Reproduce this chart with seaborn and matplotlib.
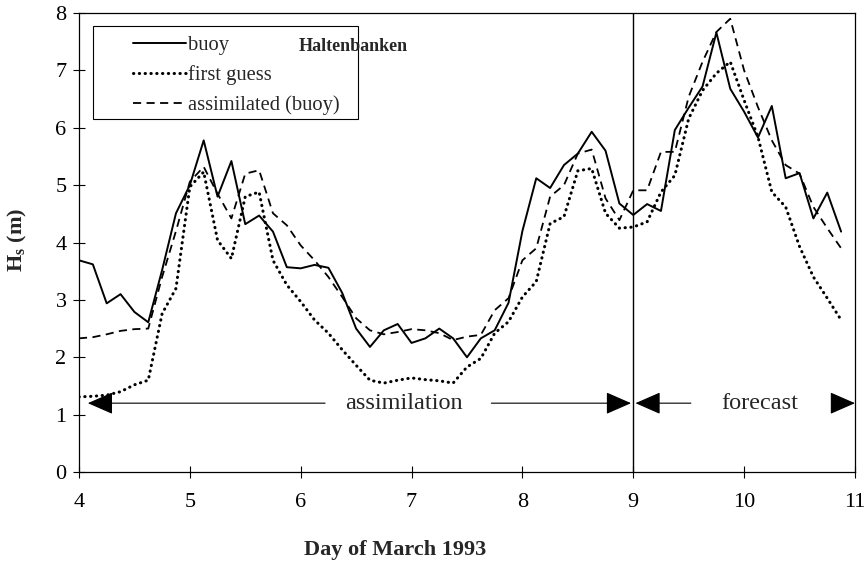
import numpy as np
import pandas as pd
import seaborn as sns
import matplotlib.pyplot as plt
from matplotlib.patches import Rectangle

# 3-hourly time axis, day of March 1993
days = [4.0, 4.125, 4.25, 4.375, 4.5, 4.625, 4.75, 4.875,
        5.0, 5.125, 5.25, 5.375, 5.5, 5.625, 5.75, 5.875,
        6.0, 6.125, 6.25, 6.375, 6.5, 6.625, 6.75, 6.875,
        7.0, 7.125, 7.25, 7.375, 7.5, 7.625, 7.75, 7.875,
        8.0, 8.125, 8.25, 8.375, 8.5, 8.625, 8.75, 8.875,
        9.0, 9.125, 9.25, 9.375, 9.5, 9.625, 9.75, 9.875,
        10.0, 10.125, 10.25, 10.375, 10.5, 10.625, 10.75, 10.875]

buoy = [3.69, 3.62, 2.94, 3.10, 2.79, 2.61, 3.52, 4.51,
        5.00, 5.78, 4.80, 5.42, 4.32, 4.47, 4.19, 3.57,
        3.55, 3.61, 3.56, 3.12, 2.50, 2.18, 2.47, 2.58,
        2.25, 2.33, 2.50, 2.33, 2.00, 2.33, 2.47, 2.95,
        4.20, 5.12, 4.95, 5.35, 5.55, 5.93, 5.60, 4.68,
        4.48, 4.67, 4.55, 5.96, 6.35, 6.72, 7.66, 6.68,
        6.28, 5.83, 6.38, 5.12, 5.21, 4.42, 4.87, 4.19]

first_guess = [1.31, 1.32, 1.34, 1.40, 1.52, 1.60, 2.76, 3.20,
               4.97, 5.23, 4.04, 3.72, 4.80, 4.88, 3.69, 3.26,
               2.97, 2.65, 2.42, 2.13, 1.86, 1.60, 1.55, 1.60,
               1.64, 1.61, 1.59, 1.55, 1.83, 1.98, 2.42, 2.62,
               3.05, 3.32, 4.33, 4.45, 5.25, 5.29, 4.51, 4.25,
               4.27, 4.36, 4.88, 5.17, 6.16, 6.65, 6.95, 7.15,
               6.48, 5.84, 4.88, 4.62, 3.93, 3.40, 3.03, 2.65]

assimilated = [2.33, 2.35, 2.40, 2.46, 2.49, 2.50, 3.40, 4.20,
               5.06, 5.32, 4.85, 4.42, 5.20, 5.26, 4.51, 4.30,
               3.95, 3.69, 3.40, 3.05, 2.68, 2.47, 2.40, 2.44,
               2.49, 2.47, 2.42, 2.30, 2.36, 2.39, 2.82, 3.03,
               3.69, 3.90, 4.80, 5.00, 5.55, 5.62, 4.77, 4.39,
               4.91, 4.91, 5.58, 5.58, 6.54, 7.15, 7.67, 7.90,
               7.00, 6.36, 5.78, 5.35, 5.20, 4.62, 4.25, 3.90]

df = pd.DataFrame({'day': days, 'buoy': buoy,
                   'first guess': first_guess,
                   'assimilated (buoy)': assimilated})

sns.set_theme(style="ticks")
plt.rcParams['font.family'] = ['Liberation Serif', 'DejaVu Serif']
plt.rcParams['mathtext.fontset'] = 'custom'
plt.rcParams['mathtext.rm'] = 'Liberation Serif'
plt.rcParams['mathtext.bf'] = 'Liberation Serif:bold'

fig = plt.figure(figsize=(8.65, 5.61), dpi=100)
ax = fig.add_axes([0.0913, 0.1586, 0.8971, 0.8182])

sns.lineplot(x='day', y='buoy', data=df, ax=ax, color='black', lw=1.4, label='buoy')
sns.lineplot(x='day', y='first guess', data=df, ax=ax, color='black', lw=2.2,
             linestyle=(0, (0.1, 1.8)), dash_capstyle='round', label='first guess')
sns.lineplot(x='day', y='assimilated (buoy)', data=df, ax=ax, color='black', lw=1.3,
             linestyle=(0, (4.5, 3)), label='assimilated (buoy)')

ax.axvline(9, color='black', lw=1)

ax.set_xlim(4, 11)
ax.set_ylim(0, 8)
ax.set_xticks(range(4, 12))
ax.set_yticks(range(0, 9))
ax.tick_params(direction='inout', length=8, width=0.8, labelsize=16, colors='black')
ax.tick_params(axis='x', pad=11)
ax.tick_params(axis='y', pad=5)
for s in ax.spines.values():
    s.set_color('black')
    s.set_linewidth(0.9)

ax.set_xlabel('Day of March 1993', fontsize=16, fontweight='bold', va='center')
ax.set_ylabel(r'H$_{\mathbf{s}}$ (m)', fontsize=16, fontweight='bold', va='center')
ax.xaxis.set_label_coords(0.407, -0.17)
ax.yaxis.set_label_coords(-0.0786, 0.505)

# legend with its own box
ax.legend(frameon=False, loc='upper left', bbox_to_anchor=(0.0696, 0.951),
          borderpad=0, borderaxespad=0, handlelength=2.6, handletextpad=0.1,
          labelspacing=0.5, fontsize=14.8)
ax.add_patch(Rectangle((0.018, 0.769), 0.3415, 0.2026, transform=ax.transAxes,
                       fill=False, ec='black', lw=0.8))

ax.text(0.354, 0.926, 'Haltenbanken', ha='center', va='center', fontsize=13,
        fontweight='bold', transform=ax.transAxes)

# assimilation / forecast arrows
arrow = dict(arrowstyle='-|>,head_length=0.8,head_width=0.35', color='black',
             lw=0.8, shrinkA=0, shrinkB=0, mutation_scale=20)
ax.annotate('', xy=(4.08, 1.2), xytext=(6.22, 1.2), arrowprops=arrow)
ax.annotate('', xy=(8.98, 1.2), xytext=(7.72, 1.2), arrowprops=arrow)
ax.annotate('', xy=(9.02, 1.2), xytext=(9.52, 1.2), arrowprops=arrow)
ax.annotate('', xy=(11.0, 1.2), xytext=(10.82, 1.2), arrowprops=arrow)
ax.text(6.93, 1.2, 'assimilation', ha='center', va='center', fontsize=17.5)
ax.text(10.14, 1.2, 'forecast', ha='center', va='center', fontsize=17.5)

fig.savefig('out.png', dpi=100)
